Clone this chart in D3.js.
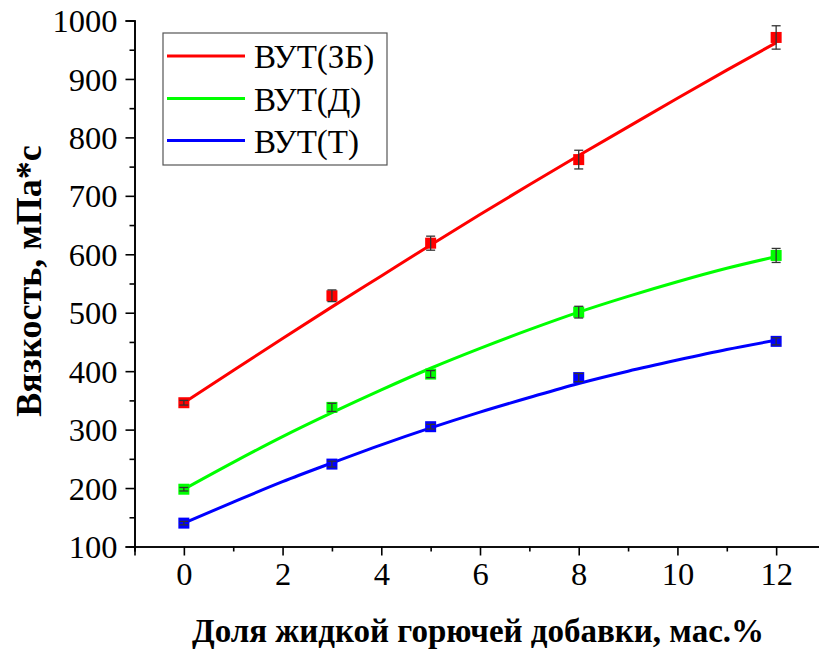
<!DOCTYPE html>
<html><head><meta charset="utf-8">
<script src="https://cdn.jsdelivr.net/npm/d3@7"></script>
</head><body style="margin:0">
<svg id="c" width="819" height="652" style="font-family:'Liberation Serif'"></svg>
<script>
const xValues = [0, 3, 5, 8, 12];
const seriesNames = ["ВУТ(ЗБ)", "ВУТ(Д)", "ВУТ(Т)"];
const seriesColors = ["#ff0000", "#00ff00", "#0000ff"];
const valuesZB = [346, 529, 619, 762, 971];
const valuesD = [198, 338, 395, 501, 598];
const valuesT = [140, 241, 305, 389, 451];
const errZB = [4, 10, 12, 16, 20];
const errD = [3, 7, 6, 10, 12];
const errT = [3, 5, 4, 7, 6];
const fitX = [0,1,2,3,4,5,6,7,8,9,10,11,12];
const fitZB = [346, 401, 456, 510, 563, 616, 668, 719, 769, 818, 867, 915, 962];
const fitD = [198, 244, 288, 329, 368, 405, 439, 471, 501, 528, 553, 576, 596];
const fitT = [140, 176, 211, 243, 274, 303, 330, 355, 379, 400, 419, 437, 453];
const xTicks = [0, 2, 4, 6, 8, 10, 12];
const yTicks = [100, 200, 300, 400, 500, 600, 700, 800, 900, 1000];
const xLabel = "Доля жидкой горючей добавки, мас.%";
const yLabel = "Вязкость, мПа*с";

const series = [
  {name: seriesNames[0], color: seriesColors[0], v: valuesZB, e: errZB, f: fitZB},
  {name: seriesNames[1], color: seriesColors[1], v: valuesD, e: errD, f: fitD},
  {name: seriesNames[2], color: seriesColors[2], v: valuesT, e: errT, f: fitT}
];

const svg = d3.select("#c");
const x = d3.scaleLinear().domain([-1, 13]).range([134.5, 825.5]);
const y = d3.scaleLinear().domain([100, 1000]).range([546.5, 20.5]);

const xAxisG = svg.append("g").attr("transform", "translate(0,546.5)");
xAxisG.call(d3.axisBottom(x).tickValues(d3.range(-1, 14, 1).filter(d => d % 2 !== 0)).tickSize(5).tickFormat(""));
xAxisG.append("g").call(d3.axisBottom(x).tickValues(xTicks).tickSize(9).tickPadding(6).tickFormat(d3.format("d")));

const yAxisG = svg.append("g").attr("transform", "translate(134.5,0)");
yAxisG.call(d3.axisLeft(y).tickValues(d3.range(150, 1000, 100)).tickSize(5).tickFormat(""));
yAxisG.append("g").call(d3.axisLeft(y).tickValues(yTicks).tickSize(9).tickPadding(8).tickFormat(d3.format("d")));

[xAxisG, yAxisG].forEach(g => {
  g.attr("font-family", null).attr("font-size", null);
  g.selectAll("g").attr("font-family", null).attr("font-size", null);
  g.selectAll("path.domain").attr("stroke", "#000").attr("stroke-width", 1.6);
  g.selectAll(".tick line").attr("stroke", "#000").attr("stroke-width", 1.6);
  g.selectAll("text").style("font-family", "'Liberation Serif'").attr("font-size", 32.5).attr("fill", "#000");
});
xAxisG.selectAll("text").attr("dy", "0.71em");
yAxisG.selectAll("text").attr("dy", "0.34em");

const line = d3.line().curve(d3.curveMonotoneX).x((d, i) => x(fitX[i])).y(d => y(d));
series.forEach(s => {
  svg.append("path").attr("d", line(s.f)).attr("fill", "none")
    .attr("stroke", s.color).attr("stroke-width", 3);
});

series.forEach(s => {
  const g = svg.append("g");
  s.v.forEach((v, i) => {
    const cx = x(xValues[i]);
    g.append("rect").attr("x", cx - 5.5).attr("y", y(v) - 5.5).attr("width", 11).attr("height", 11)
      .attr("fill", s.color);
    const top = y(v + s.e[i]), bot = y(v - s.e[i]);
    g.append("line").attr("x1", cx).attr("x2", cx).attr("y1", top).attr("y2", bot)
      .attr("stroke", "#333").attr("stroke-width", 1.3);
    [top, bot].forEach(yy => g.append("line").attr("x1", cx - 4.5).attr("x2", cx + 4.5)
      .attr("y1", yy).attr("y2", yy).attr("stroke", "#333").attr("stroke-width", 1.3));
  });
});

const lg = svg.append("g");
lg.append("rect").attr("x", 163).attr("y", 33).attr("width", 224).attr("height", 132)
  .attr("fill", "#fff").attr("stroke", "#555").attr("stroke-width", 1.2);
const legY = [56, 98.5, 140.5];
series.forEach((s, i) => {
  lg.append("line").attr("x1", 167).attr("x2", 245).attr("y1", legY[i]).attr("y2", legY[i])
    .attr("stroke", s.color).attr("stroke-width", 3);
  lg.append("text").attr("x", 254).attr("y", legY[i] + 12).style("font-family", "'Liberation Serif'")
    .attr("font-size", 33).attr("fill", "#000").text(s.name);
});

svg.append("text").attr("x", 478).attr("y", 642).attr("text-anchor", "middle")
  .style("font-family", "'Liberation Serif'").attr("font-weight", "bold").attr("font-size", 33).attr("fill", "#000").text(xLabel);
svg.append("text").attr("transform", "translate(41,281) rotate(-90)").attr("text-anchor", "middle")
  .style("font-family", "'Liberation Serif'").attr("font-weight", "bold").attr("font-size", 36).attr("fill", "#000").text(yLabel);
</script>
</body></html>
